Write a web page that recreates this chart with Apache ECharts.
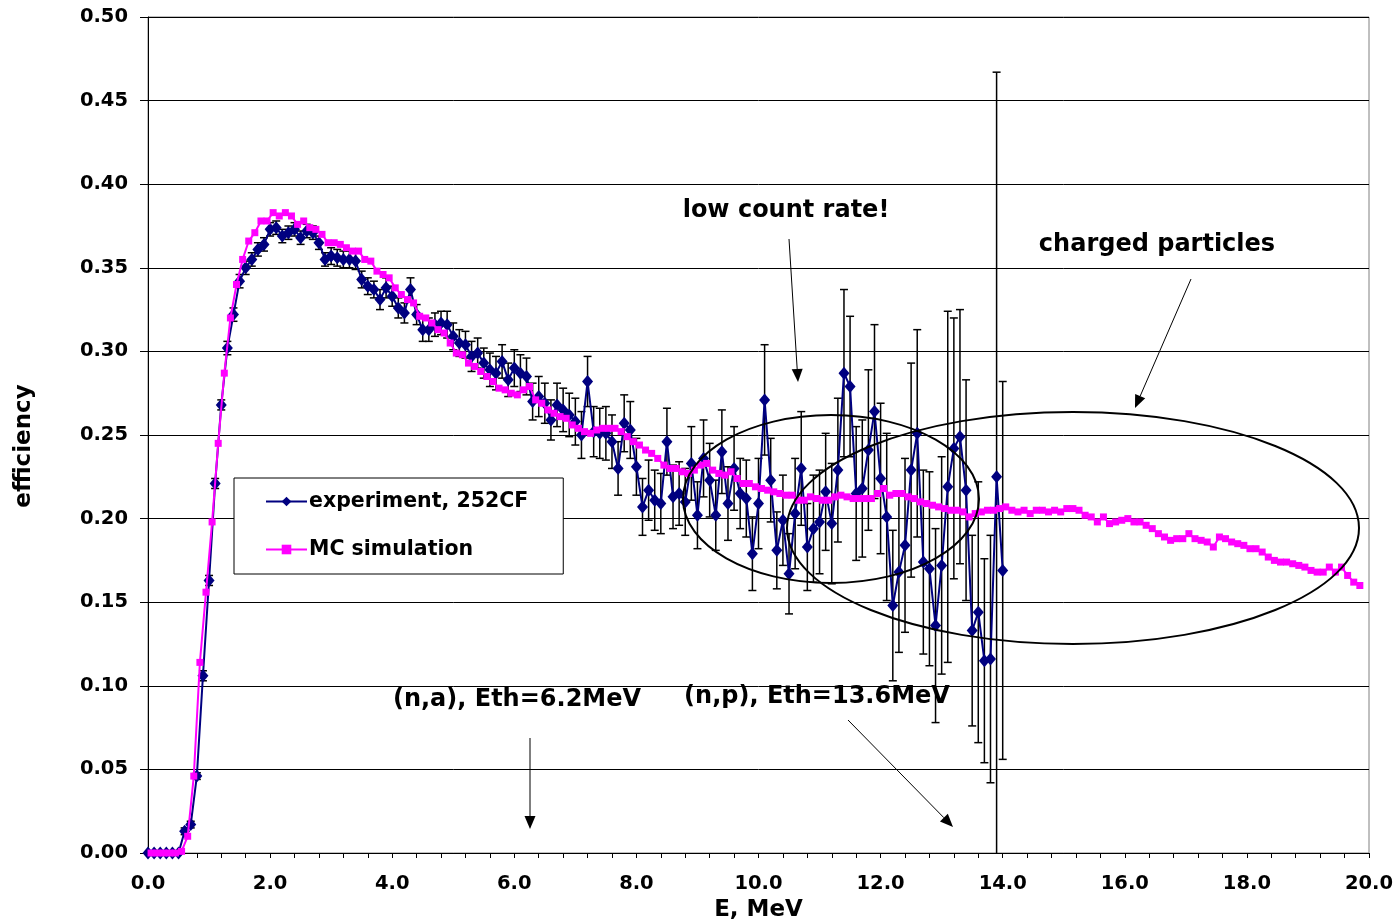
<!DOCTYPE html>
<html>
<head>
<meta charset="utf-8">
<title>efficiency vs E</title>
<script src="https://cdn.jsdelivr.net/npm/echarts@6/dist/echarts.min.js"></script>
<style>
  html, body { margin: 0; padding: 0; background: #fff; }
  #chart { width: 1397px; height: 921px; }
</style>
</head>
<body>
<div id="chart"></div>
<script>
// experiment, one point every 0.1 MeV from 0.0 to 14.0
const expStartE = 0;
const expStepE = 0.1;
const expValues = [
  0, 0, 0, 0, 0, 0, 0.013, 0.017, 0.046, 0.106,
  0.163, 0.221, 0.268, 0.302, 0.322, 0.342, 0.350, 0.355, 0.361, 0.364,
  0.373, 0.374, 0.369, 0.371, 0.373, 0.368, 0.372, 0.371, 0.365, 0.355,
  0.357, 0.356, 0.355, 0.355, 0.354, 0.343, 0.339, 0.337, 0.331, 0.338,
  0.333, 0.326, 0.323, 0.337, 0.322, 0.313, 0.313, 0.316, 0.317, 0.316,
  0.309, 0.305, 0.304, 0.297, 0.299, 0.293, 0.289, 0.287, 0.294, 0.283,
  0.290, 0.287, 0.285, 0.270, 0.273, 0.269, 0.259, 0.268, 0.265, 0.262,
  0.258, 0.250, 0.282, 0.252, 0.251, 0.251, 0.246, 0.230, 0.257, 0.253,
  0.231, 0.207, 0.217, 0.211, 0.209, 0.246, 0.213, 0.215, 0.210, 0.233,
  0.202, 0.236, 0.223, 0.202, 0.240, 0.209, 0.230, 0.215, 0.212, 0.179,
  0.209, 0.271, 0.223, 0.181, 0.199, 0.167, 0.203, 0.230, 0.183, 0.194,
  0.198, 0.216, 0.197, 0.229, 0.287, 0.279, 0.215, 0.218, 0.241, 0.264,
  0.224, 0.201, 0.148, 0.168, 0.184, 0.229, 0.251, 0.174, 0.170, 0.136,
  0.172, 0.219, 0.242, 0.249, 0.217, 0.133, 0.144, 0.115, 0.116, 0.225,
  0.169
];
// half length of the error bars of the experiment points
const expErrors = [
  0, 0, 0, 0, 0, 0, 0.002, 0.002, 0.002, 0.003,
  0.003, 0.003, 0.003, 0.004, 0.004, 0.004, 0.004, 0.004, 0.004, 0.004,
  0.004, 0.004, 0.004, 0.004, 0.004, 0.004, 0.004, 0.004, 0.004, 0.004,
  0.005, 0.005, 0.005, 0.005, 0.005, 0.005, 0.005, 0.005, 0.006, 0.006,
  0.006, 0.006, 0.006, 0.007, 0.006, 0.007, 0.007, 0.007, 0.007, 0.008,
  0.008, 0.008, 0.008, 0.009, 0.009, 0.009, 0.010, 0.010, 0.010, 0.010,
  0.011, 0.011, 0.011, 0.011, 0.012, 0.012, 0.012, 0.013, 0.013, 0.013,
  0.014, 0.014, 0.015, 0.015, 0.015, 0.016, 0.016, 0.016, 0.017, 0.017,
  0.017, 0.017, 0.018, 0.018, 0.018, 0.020, 0.019, 0.019, 0.020, 0.022,
  0.020, 0.023, 0.022, 0.021, 0.025, 0.022, 0.025, 0.021, 0.023, 0.022,
  0.027, 0.033, 0.025, 0.023, 0.027, 0.024, 0.033, 0.034, 0.026, 0.032,
  0.031, 0.035, 0.036, 0.043, 0.050, 0.042, 0.040, 0.041, 0.048, 0.052,
  0.045, 0.050, 0.045, 0.048, 0.052, 0.064, 0.062, 0.055, 0.058, 0.058,
  0.065, 0.105, 0.078, 0.076, 0.066, 0.057, 0.078, 0.061, 0.074, 0.242,
  0.113
];
// MC simulation, bins of 0.1 MeV centred at 0.05, 0.15, ... 19.85
const mcStartE = 0.05;
const mcStepE = 0.1;
const mcValues = [
  0, 0, 0, 0, 0, 0.001, 0.010, 0.046, 0.114, 0.156,
  0.198, 0.245, 0.287, 0.320, 0.340, 0.355, 0.366, 0.371, 0.378, 0.378,
  0.383, 0.381, 0.383, 0.381, 0.376, 0.378, 0.374, 0.373, 0.370, 0.365,
  0.365, 0.364, 0.362, 0.360, 0.360, 0.355, 0.354, 0.348, 0.346, 0.344,
  0.338, 0.334, 0.331, 0.329, 0.321, 0.320, 0.317, 0.313, 0.311, 0.305,
  0.299, 0.298, 0.293, 0.291, 0.288, 0.285, 0.282, 0.278, 0.277, 0.275,
  0.274, 0.277, 0.279, 0.271, 0.269, 0.265, 0.263, 0.261, 0.260, 0.256,
  0.254, 0.252, 0.251, 0.253, 0.254, 0.254, 0.254, 0.252, 0.249, 0.246,
  0.244, 0.241, 0.239, 0.236, 0.232, 0.230, 0.230, 0.228, 0.227, 0.229,
  0.232, 0.233, 0.229, 0.227, 0.226, 0.228, 0.224, 0.221, 0.221, 0.219,
  0.218, 0.217, 0.216, 0.215, 0.214, 0.214, 0.211, 0.211, 0.213, 0.212,
  0.211, 0.211, 0.213, 0.214, 0.213, 0.212, 0.212, 0.212, 0.212, 0.215,
  0.218, 0.214, 0.215, 0.215, 0.213, 0.212, 0.210, 0.209, 0.208, 0.207,
  0.206, 0.205, 0.205, 0.204, 0.201, 0.203, 0.204, 0.205, 0.205, 0.206,
  0.207, 0.205, 0.204, 0.205, 0.203, 0.205, 0.205, 0.204, 0.205, 0.204,
  0.206, 0.206, 0.205, 0.202, 0.201, 0.198, 0.201, 0.197, 0.198, 0.199,
  0.200, 0.198, 0.198, 0.196, 0.194, 0.191, 0.189, 0.187, 0.188, 0.188,
  0.191, 0.188, 0.187, 0.186, 0.183, 0.189, 0.188, 0.186, 0.185, 0.184,
  0.182, 0.182, 0.180, 0.177, 0.175, 0.174, 0.174, 0.173, 0.172, 0.171,
  0.169, 0.168, 0.168, 0.171, 0.168, 0.171, 0.166, 0.162, 0.160
];
const seriesNames = ['experiment, 252CF', 'MC simulation'];
const notes = {
  lowRate: 'low count rate!',
  charged: 'charged particles',
  na: '(n,a), Eth=6.2MeV',
  np: '(n,p), Eth=13.6MeV'
};

const FONT = '"DejaVu Sans", Arial, sans-serif';

const energy = (start, step, i) => Math.round((start + step * i) * 100) / 100;
const expData = expValues.map((v, i) => [energy(expStartE, expStepE, i), v]);
const mcData = mcValues.map((v, i) => [energy(mcStartE, mcStepE, i), v]);
const errData = expValues
  .map((v, i) => [energy(expStartE, expStepE, i), v - expErrors[i], v + expErrors[i]])
  .filter((d, i) => expErrors[i] > 0);

function renderErrorBar(params, api) {
  const e = api.value(0);
  const lo = api.value(1);
  const hi = api.value(2);
  const top = api.coord([e, hi]);
  const bottom = api.coord([e, Math.max(lo, 0)]);
  const cap = 4;
  const style = { stroke: '#000', lineWidth: 1.5 };
  const children = [
    { type: 'line', shape: { x1: top[0], y1: top[1], x2: bottom[0], y2: bottom[1] }, style },
    { type: 'line', shape: { x1: top[0] - cap, y1: top[1], x2: top[0] + cap, y2: top[1] }, style }
  ];
  if (lo >= 0) {
    children.push({ type: 'line', shape: { x1: bottom[0] - cap, y1: bottom[1], x2: bottom[0] + cap, y2: bottom[1] }, style });
  }
  return { type: 'group', children };
}

function arrow(x1, y1, x2, y2) {
  const a = Math.atan2(y2 - y1, x2 - x1);
  const len = 13, w = 5.5;
  const bx = x2 - len * Math.cos(a), by = y2 - len * Math.sin(a);
  const px = -Math.sin(a) * w, py = Math.cos(a) * w;
  return [
    { type: 'line', shape: { x1, y1, x2: bx, y2: by }, style: { stroke: '#000', lineWidth: 1 }, z: 20 },
    { type: 'polygon', shape: { points: [[x2, y2], [bx + px, by + py], [bx - px, by - py]] }, style: { fill: '#000' }, z: 20 }
  ];
}

function note(text, cx, cy) {
  return {
    type: 'text', x: cx, y: cy, z: 20,
    style: { text, font: 'bold 24px ' + FONT, fill: '#000', align: 'center', verticalAlign: 'middle' }
  };
}

const chart = echarts.init(document.getElementById('chart'));
chart.setOption({
  animation: false,
  backgroundColor: '#fff',
  grid: {
    left: 148, top: 17, width: 1221, height: 836,
    show: true, borderColor: '#808080', borderWidth: 1, backgroundColor: 'transparent',
    outerBoundsMode: 'none'
  },
  legend: {
    left: 234, top: 478,
    orient: 'vertical',
    data: seriesNames,
    selectedMode: false,
    backgroundColor: '#fff',
    borderColor: '#000',
    borderWidth: 1,
    borderRadius: 0,
    padding: [13, 35, 14, 31],
    itemGap: 27,
    itemWidth: 41,
    itemHeight: 12,
    textStyle: { fontFamily: FONT, fontWeight: 'bold', fontSize: 20.5, color: '#000', padding: [0, 0, 0, -3] },
    z: 10
  },
  xAxis: {
    type: 'value', min: 0, max: 20, interval: 0.4,
    name: 'E, MeV', nameLocation: 'middle', nameGap: 43,
    nameTextStyle: { fontFamily: FONT, fontWeight: 'bold', fontSize: 23, color: '#000' },
    axisLine: { show: true, onZero: false, lineStyle: { color: '#000', width: 1 } },
    axisTick: { show: true, inside: false, length: 5, lineStyle: { color: '#000' } },
    splitLine: { show: false },
    axisLabel: {
      margin: 21,
      fontFamily: FONT, fontWeight: 'bold', fontSize: 19.5, color: '#000',
      formatter: (v) => {
        const r = Math.round(v * 10) / 10;
        return Math.abs(r / 2 - Math.round(r / 2)) < 1e-6 ? r.toFixed(1) : '';
      }
    }
  },
  yAxis: {
    type: 'value', min: 0, max: 0.5, interval: 0.05,
    name: 'efficiency', nameLocation: 'middle', nameGap: 112, nameRotate: 90,
    nameTextStyle: { fontFamily: FONT, fontWeight: 'bold', fontSize: 23, color: '#000', padding: [0, 22, 0, 0] },
    axisLine: { show: true, onZero: false, lineStyle: { color: '#000', width: 1 } },
    axisTick: { show: true, inside: false, length: 8, lineStyle: { color: '#000' } },
    splitLine: { show: true, lineStyle: { color: '#000', width: 1 } },
    axisLabel: {
      margin: 20,
      fontFamily: FONT, fontWeight: 'bold', fontSize: 19.5, color: '#000',
      formatter: (v) => v.toFixed(2)
    }
  },
  series: [
    {
      name: 'errors',
      type: 'custom',
      renderItem: renderErrorBar,
      data: errData,
      encode: { x: 0, y: [1, 2] },
      z: 2,
      silent: true
    },
    {
      name: seriesNames[0],
      type: 'line',
      data: expData,
      symbol: 'diamond',
      symbolSize: [11, 13],
      showAllSymbol: true,
      color: '#000080',
      itemStyle: { color: '#000080' },
      lineStyle: { color: '#000080', width: 2 },
      z: 3
    },
    {
      name: seriesNames[1],
      type: 'line',
      data: mcData,
      symbol: 'rect',
      symbolSize: 7,
      showAllSymbol: true,
      color: '#ff00ff',
      itemStyle: { color: '#ff00ff' },
      lineStyle: { color: '#ff00ff', width: 2 },
      z: 4
    }
  ],
  graphic: [
    { type: 'ellipse', shape: { cx: 831, cy: 499, rx: 148, ry: 84 }, style: { fill: 'none', stroke: '#000', lineWidth: 2 }, z: 20 },
    { type: 'ellipse', shape: { cx: 1073, cy: 528, rx: 286, ry: 116 }, style: { fill: 'none', stroke: '#000', lineWidth: 2 }, z: 20 },
    note(notes.lowRate, 786, 211),
    note(notes.charged, 1157, 245),
    note(notes.na, 517, 700),
    note(notes.np, 817, 697),
    ...arrow(789, 239, 798, 382),
    ...arrow(1191, 279, 1135, 408),
    ...arrow(530, 738, 530, 829),
    ...arrow(848, 720, 953, 827)
  ]
});
</script>
</body>
</html>
